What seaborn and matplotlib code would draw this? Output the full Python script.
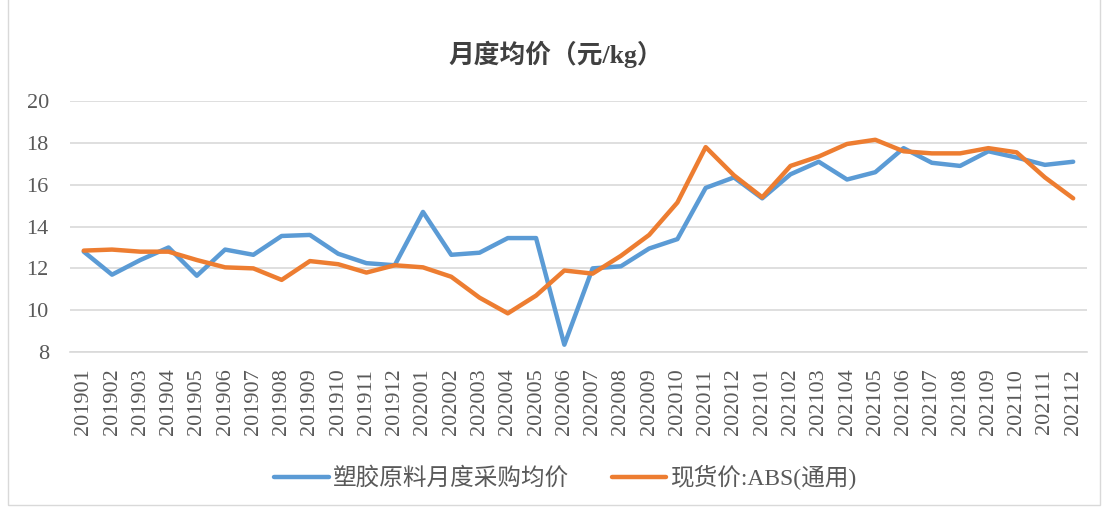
import matplotlib
matplotlib.use("Agg")
import matplotlib.pyplot as plt
import seaborn as sns
import pandas as pd
from matplotlib.patches import Rectangle

months = ["201901","201902","201903","201904","201905","201906","201907","201908","201909","201910","201911","201912",
          "202001","202002","202003","202004","202005","202006","202007","202008","202009","202010","202011","202012",
          "202101","202102","202103","202104","202105","202106","202107","202108","202109","202110","202111","202112"]
purchase = [12.8, 11.7, 12.4, 13.0, 11.65, 12.9, 12.65, 13.55, 13.6, 12.7, 12.25, 12.15,
            14.7, 12.65, 12.75, 13.45, 13.45, 8.35, 12.0, 12.1, 12.95, 13.4, 15.85, 16.35,
            15.35, 16.5, 17.1, 16.25, 16.6, 17.75, 17.05, 16.9, 17.6, 17.3, 16.95, 17.1]
spot = [12.85, 12.9, 12.8, 12.8, 12.4, 12.05, 12.0, 11.45, 12.35, 12.2, 11.8, 12.15,
        12.05, 11.6, 10.6, 9.85, 10.7, 11.9, 11.75, 12.6, 13.6, 15.15, 17.8, 16.45,
        15.4, 16.9, 17.35, 17.95, 18.15, 17.6, 17.5, 17.5, 17.75, 17.55, 16.35, 15.35]
series_names = ["塑胶原料月度采购均价", "现货价:ABS(通用)"]
title = "月度均价（元/kg）"
yticks = [8, 10, 12, 14, 16, 18, 20]

df = pd.DataFrame({
    "month": months * 2,
    "value": purchase + spot,
    "series": [series_names[0]] * len(months) + [series_names[1]] * len(months),
})

sns.set_theme(style="white")
plt.rcParams["font.family"] = ["Liberation Serif", "Noto Sans CJK SC"]

fig = plt.figure(figsize=(11.05, 5.08), dpi=100)
ax = fig.add_axes([0.063, 0.307, 0.921, 0.494])

palette = {series_names[0]: "#5B9BD5", series_names[1]: "#ED7D31"}
sns.lineplot(data=df, x="month", y="value", hue="series", palette=palette,
             sort=False, linewidth=3.2, ax=ax)

ax.set_ylim(8, 20)
ax.set_yticks(yticks)
ax.set_xlim(-0.5, len(months) - 0.5)
ax.yaxis.grid(True, color="#D9D9D9", linewidth=1.2)
ax.xaxis.grid(False)
for s in ["top", "right", "left"]:
    ax.spines[s].set_visible(False)
ax.spines["bottom"].set_color("#D9D9D9")
ax.spines["bottom"].set_linewidth(1.2)
ax.set_xlabel("")
ax.set_ylabel("")
ax.tick_params(axis="x", labelrotation=90, labelsize=16, colors="#595959", length=0, pad=12)
ax.tick_params(axis="y", labelsize=16, colors="#595959", length=0, pad=15)

fig.text(0.503, 0.892, title, ha="center", va="center", fontsize=18.5, color="#404040",
         fontweight="bold", family=["Liberation Serif", "Noto Sans CJK SC"])

handles, labels = ax.get_legend_handles_labels()
ax.legend_.remove()
fig.legend(handles, labels, loc="center", bbox_to_anchor=(0.512, 0.06), ncol=2, frameon=False,
           fontsize=17, handlelength=2.3, handletextpad=0.2, columnspacing=1.8,
           labelcolor="#595959")

fig.patches.append(Rectangle((8 / 1105, 3 / 508), (1100 - 8) / 1105, 1.0, transform=fig.transFigure,
                             fill=False, edgecolor="#D9D9D9", linewidth=1.0))

fig.savefig("out.png", dpi=100)
